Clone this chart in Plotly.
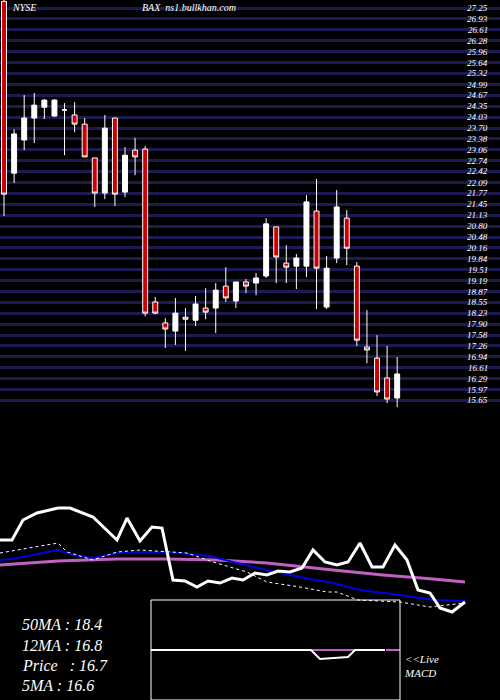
import plotly.graph_objects as go

BG = "#000"
NAVY = "#1c1c52"
RED = "#cc0000"
MAGENTA = "#c060c0"
BLUE = "#0000dd"
FONT = "Liberation Serif"

# candles
opens = [27.45, 22.37, 23.35, 24.00, 24.32, 24.06, 24.24, 24.09, 23.82, 22.82,
         21.78, 24.00, 21.81, 23.05, 23.08, 18.56, 17.94, 17.70, 18.11, 18.02,
         18.38, 18.38, 19.03, 18.59, 19.15, 19.12, 19.33, 20.78, 19.71, 19.62,
         19.62, 21.25, 18.41, 19.86, 21.04, 19.62, 17.23, 16.90, 16.31, 15.72]
highs = [27.50, 23.67, 24.68, 24.74, 24.56, 24.56, 24.44, 24.47, 24.00, 22.82,
         24.09, 24.00, 23.14, 23.41, 23.17, 18.71, 18.08, 18.68, 18.38, 18.74,
         18.97, 19.12, 19.59, 19.15, 19.24, 19.42, 21.04, 20.78, 20.24, 19.98,
         21.72, 22.20, 19.92, 21.87, 21.28, 19.74, 18.32, 17.58, 17.26, 16.93]
lows = [21.10, 22.08, 23.05, 23.26, 23.97, 24.03, 22.90, 23.58, 22.85, 21.37,
        21.60, 21.40, 21.66, 22.31, 18.14, 18.20, 17.20, 17.29, 17.11, 17.85,
        18.05, 17.64, 18.56, 18.38, 18.82, 18.76, 19.27, 19.12, 19.12, 18.94,
        19.30, 18.35, 18.35, 19.71, 19.65, 17.26, 16.75, 15.78, 15.57, 15.45]
closes = [21.75, 23.53, 24.00, 24.38, 24.53, 24.53, 24.24, 23.82, 22.85, 21.78,
          23.70, 21.75, 22.90, 22.85, 18.23, 18.23, 17.76, 18.23, 18.05, 18.50,
          18.26, 18.91, 18.68, 19.15, 19.03, 19.27, 20.87, 19.89, 19.59, 19.86,
          21.52, 19.56, 19.56, 21.37, 20.15, 17.43, 17.14, 15.90, 15.69, 16.43]
idx = list(range(len(opens)))

# price grid levels
grid_levels = [round(27.25 - 0.3223 * k, 2) for k in range(37)]

# lower panel indicator lines (x position, level)
price_x = [0, 12, 23, 37, 58, 70, 93, 117, 127, 140, 152, 162, 173, 185, 197, 208,
           220, 232, 243, 255, 267, 278, 290, 302, 313, 325, 337, 348, 360, 372,
           383, 395, 407, 418, 430, 440, 452, 465]
price_v = [160, 160, 180, 187, 192, 192, 183, 160, 182, 159, 173, 172, 120, 119,
           113, 119, 117, 122, 120, 127, 125, 129, 128, 132, 150, 138, 135, 138,
           157, 133, 133, 155, 140, 110, 107, 92, 88, 98]
ma12_x = [0, 12, 58, 70, 93, 117, 140, 167, 210, 233, 267, 300, 333, 360, 400, 433, 465]
ma12_v = [140, 141, 150, 146, 142, 147, 148, 148, 144, 138, 130, 123, 117, 110, 105, 100, 99]
ma50_x = [0, 58, 117, 167, 217, 267, 333, 383, 433, 465]
ma50_v = [135, 139, 141, 141, 140, 137, 130, 125, 121, 118]
ma5_x = [0, 58, 67, 93, 117, 140, 187, 213, 247, 267, 300, 327, 337, 358, 400, 430, 447, 465]
ma5_v = [147, 157, 148, 140, 148, 150, 147, 138, 128, 118, 113, 108, 108, 100, 98, 93, 95, 97]
macd_x = [151, 311, 320, 348, 355, 385]
macd_v = [50, 50, 41, 43, 50, 50]

labels = ["50MA : 18.4", "12MA : 16.8", "Price   : 16.7", "5MA : 16.6"]

fig = go.Figure()
fig.add_trace(go.Candlestick(
    x=idx, open=opens, high=highs, low=lows, close=closes,
    increasing=dict(line=dict(color="#fff", width=1), fillcolor="#fff"),
    decreasing=dict(line=dict(color="#fff", width=1), fillcolor=RED),
    whiskerwidth=0, xaxis="x", yaxis="y",
))
fig.add_trace(go.Scatter(x=ma50_x, y=ma50_v, mode="lines", line=dict(color=MAGENTA, width=3),
                         xaxis="x2", yaxis="y2"))
fig.add_trace(go.Scatter(x=ma12_x, y=ma12_v, mode="lines", line=dict(color=BLUE, width=2),
                         xaxis="x2", yaxis="y2"))
fig.add_trace(go.Scatter(x=ma5_x, y=ma5_v, mode="lines", line=dict(color="#fff", width=1, dash="dot"),
                         xaxis="x2", yaxis="y2"))
fig.add_trace(go.Scatter(x=price_x, y=price_v, mode="lines", line=dict(color="#fff", width=3),
                         xaxis="x2", yaxis="y2"))
fig.add_trace(go.Scatter(x=[311, 355], y=[50, 50], mode="lines", line=dict(color=MAGENTA, width=2),
                         xaxis="x2", yaxis="y2"))
fig.add_trace(go.Scatter(x=[386, 400], y=[50, 50], mode="lines", line=dict(color=MAGENTA, width=2),
                         xaxis="x2", yaxis="y2"))
fig.add_trace(go.Scatter(x=macd_x, y=macd_v, mode="lines", line=dict(color="#fff", width=2),
                         xaxis="x2", yaxis="y2"))

# MACD box
fig.add_shape(type="rect", xref="x2", yref="y2", x0=151, x1=400, y0=0, y1=100,
              line=dict(color="#fff", width=1))

# price labels at the grid lines, drawn at the right edge
for v in grid_levels:
    fig.add_annotation(x=0.98, y=v, xref="paper", yref="y", text=f"{v:.2f}", showarrow=False,
                       xanchor="right", yanchor="middle",
                       font=dict(family=FONT, size=9, color="#fff", style="italic"))

for i, t in enumerate(labels):
    fig.add_annotation(x=20, y=75 - i * 20, xref="x2", yref="y2", text=t, showarrow=False,
                       xanchor="left", font=dict(family=FONT, size=16, color="#fff", style="italic"))
fig.add_annotation(x=402, y=34, xref="x2", yref="y2", text="<<Live<br>MACD", showarrow=False,
                   xanchor="left", align="left",
                   font=dict(family=FONT, size=11, color="#fff", style="italic"))
fig.add_annotation(x=0.02, y=1, xref="paper", yref="paper", text="NYSE", showarrow=False,
                   xanchor="left", yanchor="top",
                   font=dict(family=FONT, size=10, color="#fff", style="italic"))
fig.add_annotation(x=0.28, y=1, xref="paper", yref="paper", text="BAX  ns1.bullkhan.com",
                   showarrow=False, xanchor="left", yanchor="top",
                   font=dict(family=FONT, size=10, color="#fff", style="italic"))

fig.update_layout(
    width=500, height=700, margin=dict(l=0, r=0, t=0, b=0, pad=0),
    paper_bgcolor=BG, plot_bgcolor=BG, showlegend=False,
    xaxis=dict(domain=[0, 1], range=[-0.4, 49.2], visible=False, automargin=False,
               rangeslider=dict(visible=False)),
    yaxis=dict(domain=[0.414, 1], range=[15.36, 27.49], tickvals=grid_levels, showticklabels=False,
               showgrid=True, gridcolor=NAVY, gridwidth=3, zeroline=False, automargin=False),
    xaxis2=dict(domain=[0, 1], range=[0, 500], visible=False, anchor="y2", automargin=False),
    yaxis2=dict(domain=[0, 0.2857], range=[0, 200], visible=False, anchor="x2", automargin=False),
)

# drop the page's default body margin so the chart sits at the window's corner
fig.write_html("out.html", config={"displayModeBar": False},
               post_script="document.body.style.margin='0';")
